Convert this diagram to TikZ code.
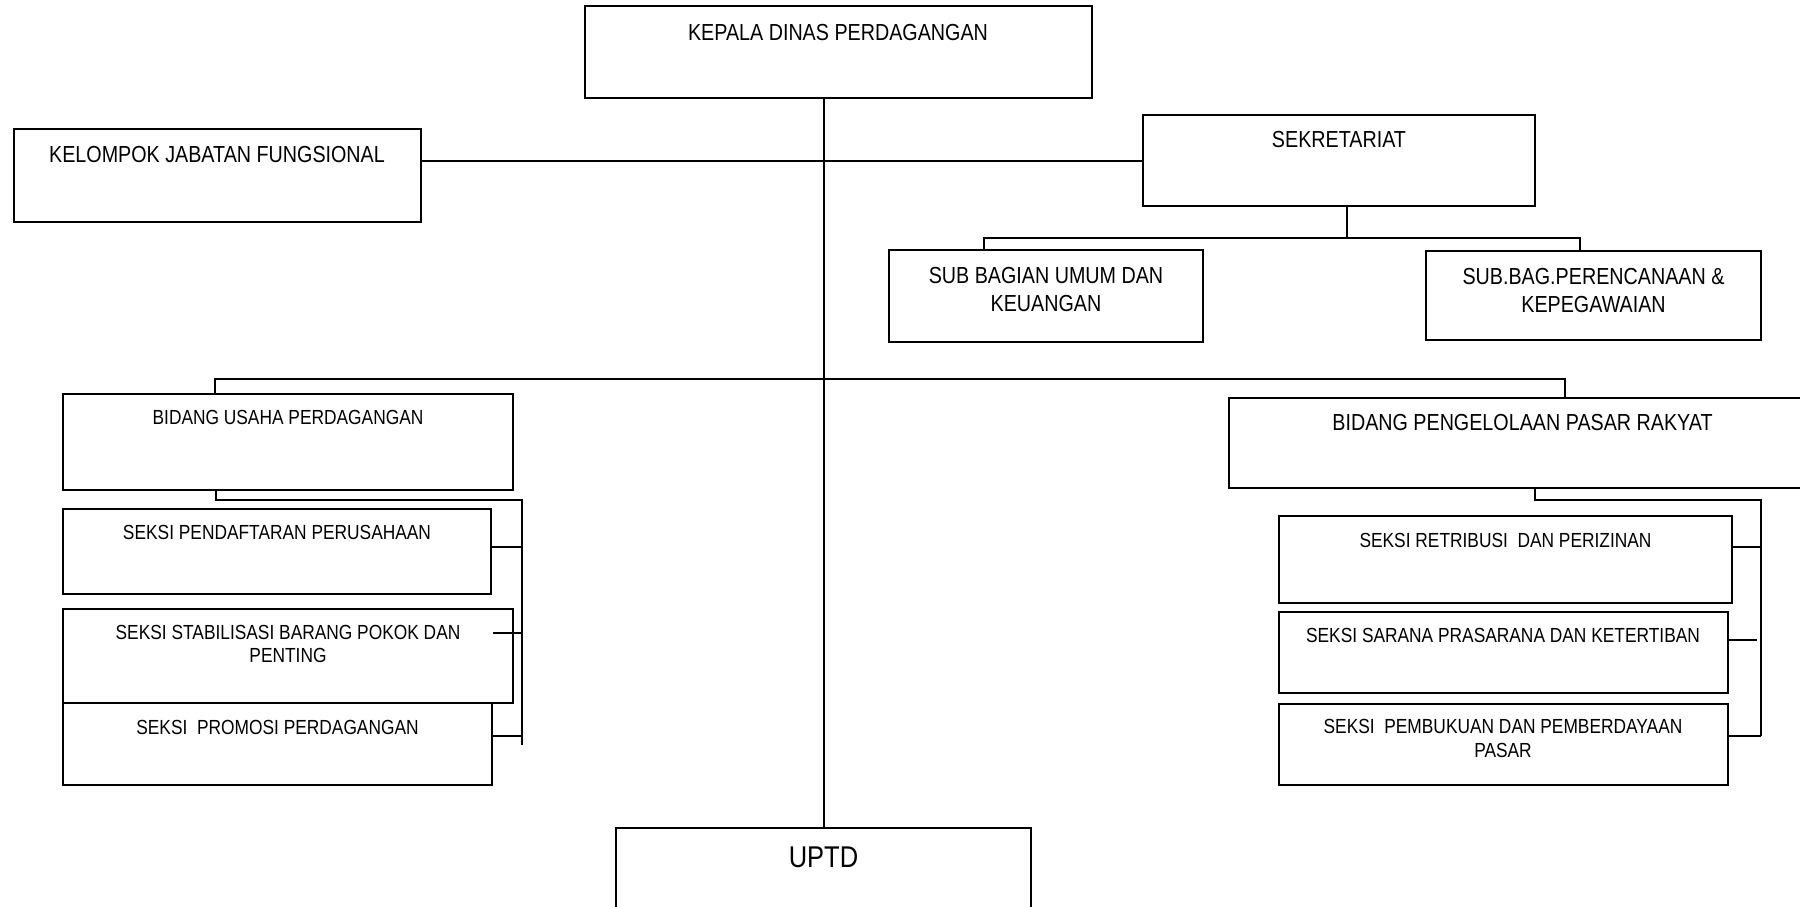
\documentclass[tikz,border=0pt]{standalone}
\usepackage{fontspec}
\setmainfont{Liberation Sans}[FakeStretch=0.85]
\usetikzlibrary{positioning, fit, calc}
\tikzset{
    orgbox/.style={rectangle, draw=black, line width=1pt, inner sep=0pt},
    bigtxt/.style={font=\fontsize{11.6}{13.8}\selectfont, align=center, inner sep=0pt},
    smalltxt/.style={font=\fontsize{10.2}{11.8}\selectfont, align=center, inner sep=0pt},
    uptdtxt/.style={font=\fontsize{15}{17}\selectfont, inner sep=0pt},
    link/.style={draw=black, line width=1pt},
}

\begin{document}
\begin{tikzpicture}[x=0.5pt, y=-0.5pt]
    \clip (0,0) rectangle (1800,906);
    % top level
    \node[orgbox, fit={(585,6) (1092,98)}] (kepala) {};
    \node[bigtxt] (kepalaT) at (838,32.5) {KEPALA DINAS PERDAGANGAN};
    \node[orgbox, fit={(14,129) (421,222)}] (kelompok) {};
    \node[bigtxt] (kelompokT) at (217,154.5) {KELOMPOK JABATAN FUNGSIONAL};
    \node[orgbox, fit={(1143,115) (1535,206)}] (sekr) {};
    \node[bigtxt] (sekrT) at (1339,140) {SEKRETARIAT};
    \node[orgbox, fit={(889,250) (1203,342)}] (subumum) {};
    \node[bigtxt] (subumumT) at (1046,289.5) {SUB BAGIAN UMUM DAN\\KEUANGAN};
    \node[orgbox, fit={(1426,251) (1761,340)}] (subren) {};
    \node[bigtxt] (subrenT) at (1593.5,290.5) {SUB.BAG.PERENCANAAN \&\\KEPEGAWAIAN};
    % bidang usaha
    \node[orgbox, fit={(63,394) (513,490)}] (bidus) {};
    \node[smalltxt] (bidusT) at (288,417.5) {BIDANG USAHA PERDAGANGAN};
    \node[orgbox, fit={(63,509) (491,594)}] (seksiA) {};
    \node[smalltxt] (seksiAT) at (277,532.5) {SEKSI PENDAFTARAN PERUSAHAAN};
    \node[orgbox, fit={(63,609) (513,703)}] (seksiB) {};
    \node[smalltxt] (seksiBT) at (288,644) {SEKSI STABILISASI BARANG POKOK DAN\\PENTING};
    \node[orgbox, fit={(63,703) (492,785)}] (seksiC) {};
    \node[smalltxt] (seksiCT) at (277.5,727.5) {SEKSI\ \ PROMOSI PERDAGANGAN};
    % bidang pasar
    \node[orgbox, fit={(1229,398) (1816,488)}] (bidpp) {};
    \node[bigtxt] (bidppT) at (1522.5,423) {BIDANG PENGELOLAAN PASAR RAKYAT};
    \node[orgbox, fit={(1279,516) (1732,603)}] (seksiD) {};
    \node[smalltxt] (seksiDT) at (1505.5,540) {SEKSI RETRIBUSI\ \ DAN PERIZINAN};
    \node[orgbox, fit={(1279,612) (1728,693)}] (seksiE) {};
    \node[smalltxt] (seksiET) at (1503,635.5) {SEKSI SARANA PRASARANA DAN KETERTIBAN};
    \node[orgbox, fit={(1279,704) (1728,785)}] (seksiF) {};
    \node[smalltxt] (seksiFT) at (1503,738.5) {SEKSI\ \ PEMBUKUAN DAN PEMBERDAYAAN\\PASAR};
    % uptd
    \node[orgbox, fit={(616,828) (1031,930)}] (uptd) {};
    \node[uptdtxt] (uptdT) at (823.5,857.5) {UPTD};
    % bus points
    \coordinate (sekbus) at (1347,238);
    \coordinate (busL) at (984,238);
    \coordinate (busR) at (1580,238);
    \coordinate (mainL) at (215,379);
    \coordinate (mainR) at (1565,379);
    \coordinate (usL) at (215.5,500);
    \coordinate (usR) at (522,500);
    \coordinate (usEnd) at (522,745);
    \coordinate (ppL) at (1535,500);
    \coordinate (ppR) at (1761,500);
    \coordinate (ppEnd) at (1761,736);
    % connectors
    \draw[link] (uptd.north) -- (uptd.north |- kepala.south);
    \draw[link] (sekr.west) -- (sekr.west -| kelompok.east);
    \draw[link] (sekbus |- sekr.south) -- (sekbus);
    \draw[link] (busL |- subumum.north) -- (busL) -- (busR) -- (busR |- subren.north);
    \draw[link] (mainL |- bidus.north) -- (mainL) -- (mainR) -- (mainR |- bidpp.north);
    \draw[link] (usL |- bidus.south) -- (usL) -- (usR) -- (usEnd);
    \draw[link] (seksiA.east |- 0,547) -- (usR |- 0,547);
    \draw[link] (493,633) -- (usR |- 0,633);
    \draw[link] (seksiC.east |- 0,736) -- (usR |- 0,736);
    \draw[link] (ppL |- bidpp.south) -- (ppL) -- (ppR) -- (ppEnd);
    \draw[link] (seksiD.east |- 0,547) -- (ppR |- 0,547);
    \draw[link] (seksiE.east |- 0,640) -- (1757,640);
    \draw[link] (seksiF.east |- 0,736) -- (ppEnd);
\end{tikzpicture}
\end{document}
